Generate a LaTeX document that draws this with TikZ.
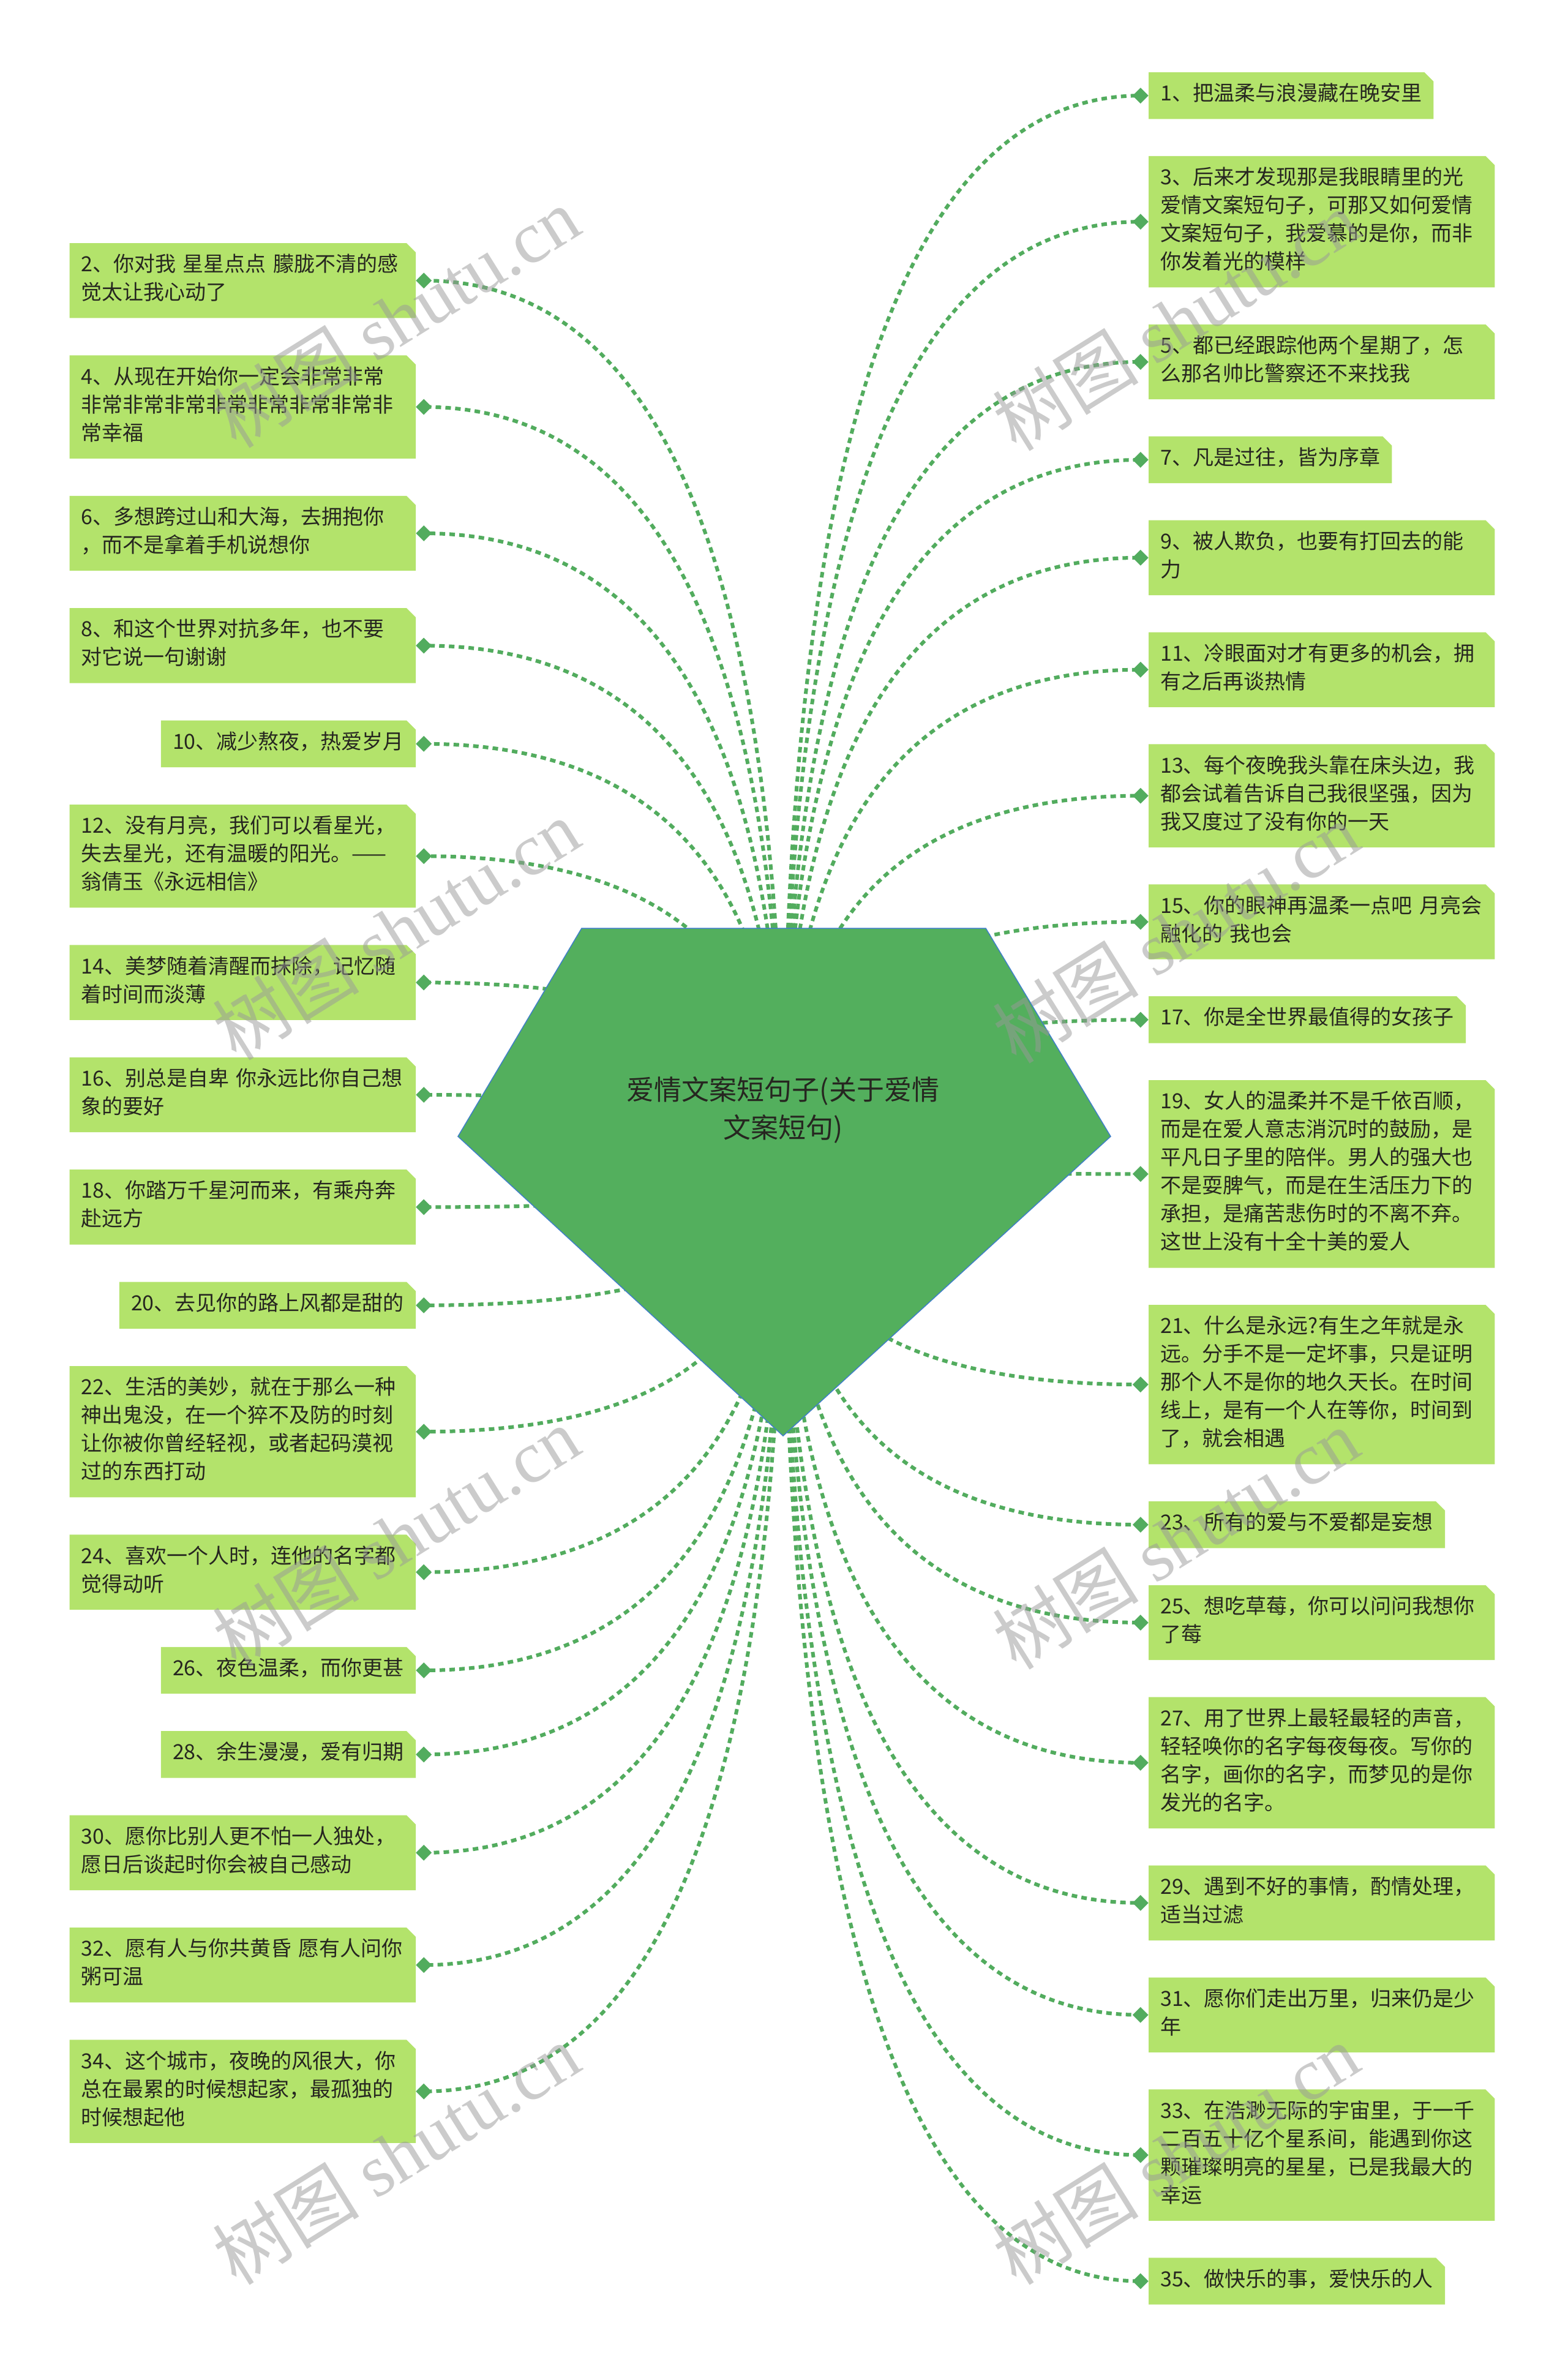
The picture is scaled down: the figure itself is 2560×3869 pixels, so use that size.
\documentclass[tikz,border=0pt]{standalone}
\usepackage{fontspec}
\setmainfont{Noto Sans CJK SC}
\newfontfamily\wmlatin{Liberation Serif}
\usetikzlibrary{calc,shapes.geometric}
\pgfdeclarelayer{conn}
\pgfdeclarelayer{boxes}
\pgfdeclarelayer{wmark}
\pgfsetlayers{conn,boxes,main,wmark}
\definecolor{boxfill}{HTML}{B3E36B}
\definecolor{linegreen}{HTML}{52AC5E}
\definecolor{rootfill}{HTML}{53AF5D}
\definecolor{rootline}{HTML}{3F7FC8}
\definecolor{txtcol}{HTML}{262620}
\newcommand\leaffont{\fontsize{34pt}{46pt}\selectfont}
\newcommand\mystrut{\rule[-14.5pt]{0pt}{46pt}}
\newcommand\boxbg[1]{\begin{pgfonlayer}{boxes}\fill[boxfill] (#1.south west) -- (#1.north west) -- ([xshift=-15pt]#1.north east) -- ([yshift=-15pt]#1.north east) -- (#1.south east) -- cycle;\end{pgfonlayer}}
\tikzset{
 leaf/.style={inner xsep=19pt, inner ysep=15pt, font=\leaffont, text=txtcol, align=left,
   execute at begin node=\mystrut, execute at end node=\mystrut},
 wideleaf/.style={leaf, text width=527pt},
 dia/.style={diamond, fill=linegreen, inner sep=0pt, minimum width=26pt, minimum height=26pt},
 link/.style={draw=linegreen, line width=6pt, dash pattern=on 9pt off 7pt},
 wm/.style={text=black!40, opacity=0.5, font=\fontsize{120pt}{130pt}\selectfont, rotate=32, inner sep=0pt},
 rootlabel/.style={font=\fontsize{45pt}{62pt}\selectfont, text=txtcol, align=center},
}
\begin{document}
\begin{tikzpicture}[x=1pt,y=-1pt]
\begin{pgfonlayer}{conn}
\fill[white] (0,0) rectangle (2560,3869);
\end{pgfonlayer}
\useasboundingbox (0,0) rectangle (2560,3869);

% ---------- right column ----------
\node[leaf, anchor=north west] (n1) at (1876,118) {1、把温柔与浪漫藏在晚安里};
\node[wideleaf, anchor=north west] (n3) at ([yshift=-60.5pt]n1.south west) {3、后来才发现那是我眼睛里的光\\爱情文案短句子，可那又如何爱情\\文案短句子，我爱慕的是你，而非\\你发着光的模样};
\node[wideleaf, anchor=north west] (n5) at ([yshift=-60.5pt]n3.south west) {5、都已经跟踪他两个星期了，怎\\么那名帅比警察还不来找我};
\node[leaf, anchor=north west] (n7) at ([yshift=-60.5pt]n5.south west) {7、凡是过往，皆为序章};
\node[wideleaf, anchor=north west] (n9) at ([yshift=-60.5pt]n7.south west) {9、被人欺负，也要有打回去的能\\力};
\node[wideleaf, anchor=north west] (n11) at ([yshift=-60.5pt]n9.south west) {11、冷眼面对才有更多的机会，拥\\有之后再谈热情};
\node[wideleaf, anchor=north west] (n13) at ([yshift=-60.5pt]n11.south west) {13、每个夜晚我头靠在床头边，我\\都会试着告诉自己我很坚强，因为\\我又度过了没有你的一天};
\node[wideleaf, anchor=north west] (n15) at ([yshift=-60.5pt]n13.south west) {15、你的眼神再温柔一点吧 月亮会\\融化的 我也会};
\node[leaf, anchor=north west] (n17) at ([yshift=-60.5pt]n15.south west) {17、你是全世界最值得的女孩子};
\node[wideleaf, anchor=north west] (n19) at ([yshift=-60.5pt]n17.south west) {19、女人的温柔并不是千依百顺，\\而是在爱人意志消沉时的鼓励，是\\平凡日子里的陪伴。男人的强大也\\不是耍脾气，而是在生活压力下的\\承担，是痛苦悲伤时的不离不弃。\\这世上没有十全十美的爱人};
\node[wideleaf, anchor=north west] (n21) at ([yshift=-60.5pt]n19.south west) {21、什么是永远?有生之年就是永\\远。分手不是一定坏事，只是证明\\那个人不是你的地久天长。在时间\\线上，是有一个人在等你，时间到\\了，就会相遇};
\node[leaf, anchor=north west] (n23) at ([yshift=-60.5pt]n21.south west) {23、所有的爱与不爱都是妄想};
\node[wideleaf, anchor=north west] (n25) at ([yshift=-60.5pt]n23.south west) {25、想吃草莓，你可以问问我想你\\了莓};
\node[wideleaf, anchor=north west] (n27) at ([yshift=-60.5pt]n25.south west) {27、用了世界上最轻最轻的声音，\\轻轻唤你的名字每夜每夜。写你的\\名字，画你的名字，而梦见的是你\\发光的名字。};
\node[wideleaf, anchor=north west] (n29) at ([yshift=-60.5pt]n27.south west) {29、遇到不好的事情，酌情处理，\\适当过滤};
\node[wideleaf, anchor=north west] (n31) at ([yshift=-60.5pt]n29.south west) {31、愿你们走出万里，归来仍是少\\年};
\node[wideleaf, anchor=north west] (n33) at ([yshift=-60.5pt]n31.south west) {33、在浩渺无际的宇宙里，于一千\\二百五十亿个星系间，能遇到你这\\颗璀璨明亮的星星，已是我最大的\\幸运};
\node[leaf, anchor=north west] (n35) at ([yshift=-60.5pt]n33.south west) {35、做快乐的事，爱快乐的人};

% ---------- left column ----------
\node[wideleaf, anchor=north east] (n2) at (679,397) {2、你对我 星星点点 朦胧不清的感\\觉太让我心动了};
\node[wideleaf, anchor=north east] (n4) at ([yshift=-61pt]n2.south east) {4、从现在开始你一定会非常非常\\非常非常非常非常非常非常非常非\\常幸福};
\node[wideleaf, anchor=north east] (n6) at ([yshift=-61pt]n4.south east) {6、多想跨过山和大海，去拥抱你\\，而不是拿着手机说想你};
\node[wideleaf, anchor=north east] (n8) at ([yshift=-61pt]n6.south east) {8、和这个世界对抗多年，也不要\\对它说一句谢谢};
\node[leaf, anchor=north east] (n10) at ([yshift=-61pt]n8.south east) {10、减少熬夜，热爱岁月};
\node[wideleaf, anchor=north east] (n12) at ([yshift=-61pt]n10.south east) {12、没有月亮，我们可以看星光，\\失去星光，还有温暖的阳光。——\\翁倩玉《永远相信》};
\node[wideleaf, anchor=north east] (n14) at ([yshift=-61pt]n12.south east) {14、美梦随着清醒而抹除，记忆随\\着时间而淡薄};
\node[wideleaf, anchor=north east] (n16) at ([yshift=-61pt]n14.south east) {16、别总是自卑 你永远比你自己想\\象的要好};
\node[wideleaf, anchor=north east] (n18) at ([yshift=-61pt]n16.south east) {18、你踏万千星河而来，有乘舟奔\\赴远方};
\node[leaf, anchor=north east] (n20) at ([yshift=-61pt]n18.south east) {20、去见你的路上风都是甜的};
\node[wideleaf, anchor=north east] (n22) at ([yshift=-61pt]n20.south east) {22、生活的美妙，就在于那么一种\\神出鬼没，在一个猝不及防的时刻\\让你被你曾经轻视，或者起码漠视\\过的东西打动};
\node[wideleaf, anchor=north east] (n24) at ([yshift=-61pt]n22.south east) {24、喜欢一个人时，连他的名字都\\觉得动听};
\node[leaf, anchor=north east] (n26) at ([yshift=-61pt]n24.south east) {26、夜色温柔，而你更甚};
\node[leaf, anchor=north east] (n28) at ([yshift=-61pt]n26.south east) {28、余生漫漫，爱有归期};
\node[wideleaf, anchor=north east] (n30) at ([yshift=-61pt]n28.south east) {30、愿你比别人更不怕一人独处，\\愿日后谈起时你会被自己感动};
\node[wideleaf, anchor=north east] (n32) at ([yshift=-61pt]n30.south east) {32、愿有人与你共黄昏 愿有人问你\\粥可温};
\node[wideleaf, anchor=north east] (n34) at ([yshift=-61pt]n32.south east) {34、这个城市，夜晚的风很大，你\\总在最累的时候想起家，最孤独的\\时候想起他};

% box backgrounds and diamonds
\foreach \i in {1,3,...,35}{
  \boxbg{n\i}
  \node[dia, anchor=east] (d\i) at (n\i.west) {};
}
\foreach \i in {2,4,...,34}{
  \boxbg{n\i}
  \node[dia, anchor=west] (d\i) at (n\i.east) {};
}

% root
\coordinate (rc) at (1279,1900);
\begin{pgfonlayer}{boxes}
\filldraw[fill=rootfill, draw=rootline, line width=1.5pt, line join=miter]
  (950,1516) -- (1610,1516) -- (1814,1856) -- (1279,2345) -- (748,1856) -- cycle;
\end{pgfonlayer}
\node[rootlabel] (root) at (1279,1813) {爱情文案短句子(关于爱情\\文案短句)};

% connectors
\begin{pgfonlayer}{conn}
\foreach \i in {1,...,35}{
  \draw[link] (rc) .. controls ($(rc)!0.6667!(rc |- d\i)$) and ($(d\i.center)!0.6667!(rc |- d\i)$) .. (d\i.center);
}
\end{pgfonlayer}

% watermarks
\begin{pgfonlayer}{wmark}
\node[wm] (w1) at (647,518) {树图 {\wmlatin shutu.cn}};
\node[wm] (w2) at (1920,523) {树图 {\wmlatin shutu.cn}};
\node[wm] (w3) at (647,1518) {树图 {\wmlatin shutu.cn}};
\node[wm] (w4) at (1920,1523) {树图 {\wmlatin shutu.cn}};
\node[wm] (w5) at (647,2510) {树图 {\wmlatin shutu.cn}};
\node[wm] (w6) at (1920,2513) {树图 {\wmlatin shutu.cn}};
\node[wm] (w7) at (647,3518) {树图 {\wmlatin shutu.cn}};
\node[wm] (w8) at (1920,3518) {树图 {\wmlatin shutu.cn}};
\end{pgfonlayer}
\end{tikzpicture}
\end{document}
